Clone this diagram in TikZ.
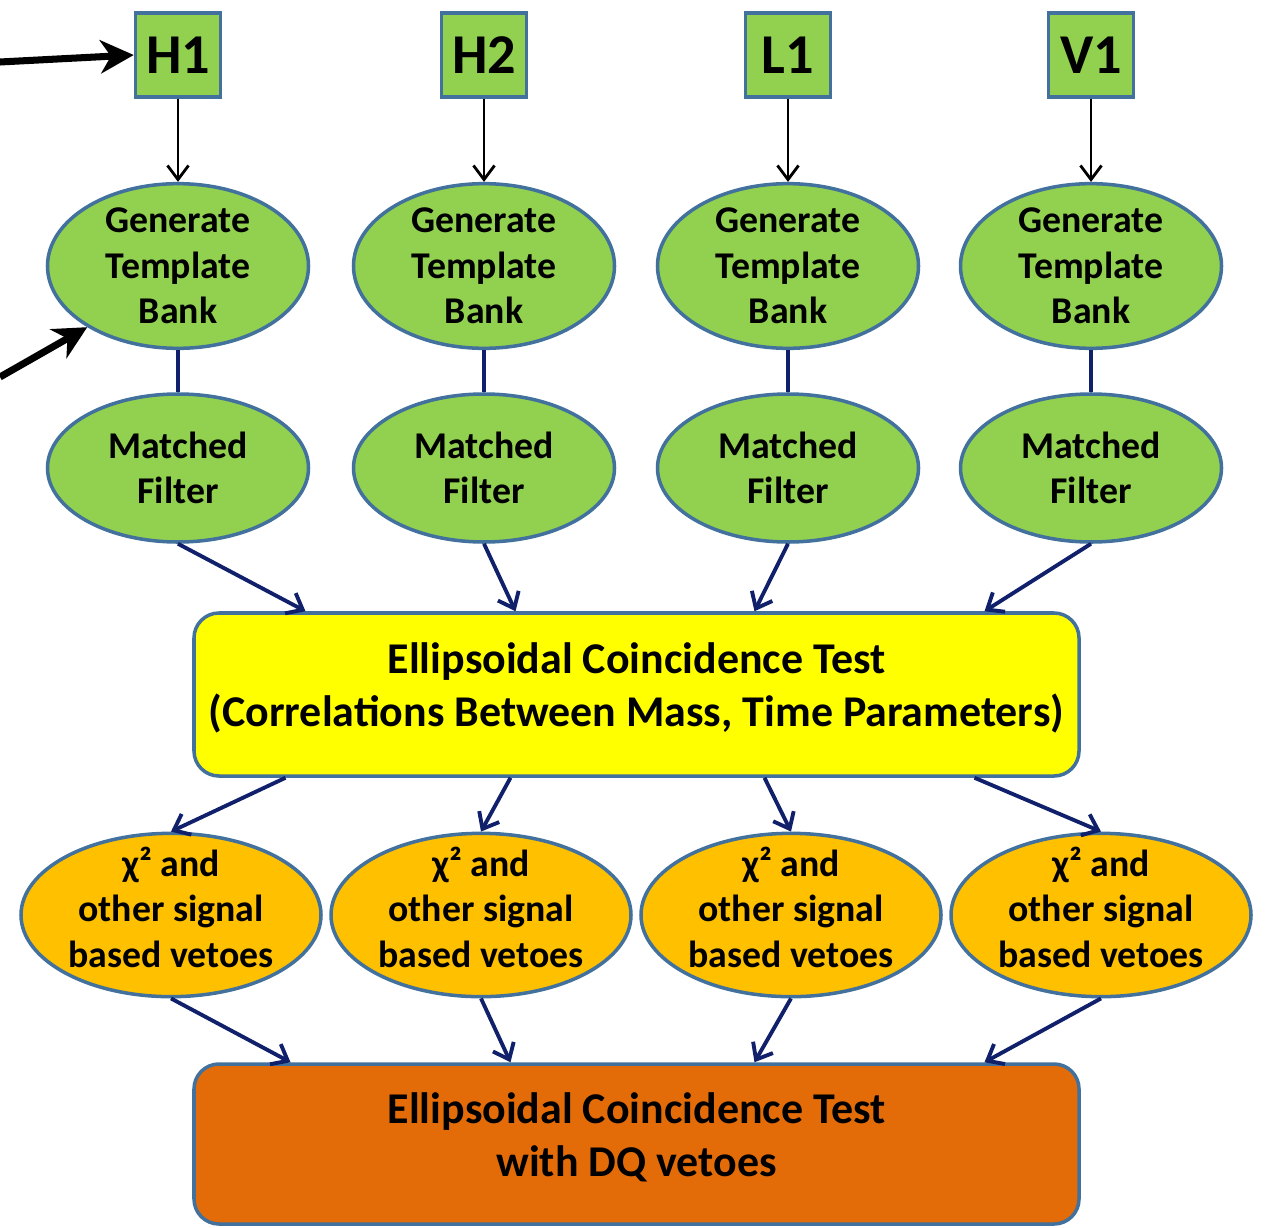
\documentclass[tikz,border=0pt]{standalone}
\usepackage{fontspec}
\setmainfont{Carlito}
\usetikzlibrary{arrows.meta,shapes.geometric,calc}
\definecolor{LeafGreen}{HTML}{92D050}
\definecolor{EdgeBlue}{HTML}{41719C}
\definecolor{Navy}{HTML}{10206B}
\definecolor{Lemon}{HTML}{FFFF00}
\definecolor{Amber}{HTML}{FFC000}
\definecolor{Rust}{HTML}{E36C09}

\begin{document}
\begin{tikzpicture}[x=0.2mm,y=-0.2mm,every node/.style={font=\bfseries,text=black,align=center},ifo/.style={draw=EdgeBlue,fill=LeafGreen,line width=2pt,minimum width=17mm,minimum height=16.8mm,inner sep=0pt,font=\bfseries\fontsize{32}{36}\selectfont},stage/.style={ellipse,draw=EdgeBlue,fill=LeafGreen,line width=2pt,inner sep=0pt,font=\bfseries\fontsize{21.5}{26}\selectfont},veto/.style={stage,fill=Amber,minimum width=60mm,minimum height=32.4mm,text depth=9pt,inner ysep=-6pt},testbox/.style={draw=EdgeBlue,line width=2pt,rounded corners=5mm,minimum width=177mm,minimum height=32.6mm,inner sep=0pt,text depth=11pt,font=\bfseries\fontsize{25}{30}\selectfont},flow/.style={-{Straight Barb[length=8pt,width=13pt]},line width=2.2pt,draw=Navy},feed/.style={-{Straight Barb[length=8pt,width=12pt]},line width=1.6pt,draw=black},pointer/.style={-{Stealth[length=19pt,width=19pt,inset=6pt]},line width=4pt,draw=black}]
\useasboundingbox (0,0) rectangle (1269,1227);
\newcommand{\detcol}[3]{\node[ifo](ifo#1) at (#3,55){#2};\node[stage,minimum width=52.2mm,minimum height=32.2mm](tmp#1) at (#3,266){Generate\\Template\\Bank};\node[stage,minimum width=52.2mm,minimum height=29.6mm](mf#1) at (#3,468){Matched\\Filter};\draw[feed](ifo#1)--(tmp#1);\draw[Navy,line width=2.2pt](tmp#1)--(mf#1);}
\detcol{1}{H1}{178}
\detcol{2}{H2}{484}
\detcol{3}{L1}{788}
\detcol{4}{V1}{1091}
\node[testbox,fill=Lemon](ect) at (636.5,694.5){Ellipsoidal Coincidence Test\\(Correlations Between Mass, Time Parameters)};
\node[veto](veto1) at (171,915){χ² and\\other signal\\based vetoes};
\node[veto](veto2) at (481,915){χ² and\\other signal\\based vetoes};
\node[veto](veto3) at (791,915){χ² and\\other signal\\based vetoes};
\node[veto](veto4) at (1101,915){χ² and\\other signal\\based vetoes};
\node[testbox,fill=Rust,minimum height=32mm](dq) at (636.5,1144){Ellipsoidal Coincidence Test\\with DQ vetoes};
\draw[flow](mf1.south)--($(ect.north)+(-331,0)$);
\draw[flow](mf2.south)--($(ect.north)+(-121,0)$);
\draw[flow](mf3.south)--($(ect.north)+(118,0)$);
\draw[flow](mf4.south)--($(ect.north)+(348,0)$);
\draw[flow]($(ect.south)+(-351,0)$)--(veto1.north);
\draw[flow]($(ect.south)+(-126,0)$)--(veto2.north);
\draw[flow]($(ect.south)+(128,0)$)--(veto3.north);
\draw[flow]($(ect.south)+(338,0)$)--(veto4.north);
\draw[flow](veto1.south)--($(dq.north)+(-346,0)$);
\draw[flow](veto2.south)--($(dq.north)+(-126,0)$);
\draw[flow](veto3.south)--($(dq.north)+(118,0)$);
\draw[flow](veto4.south)--($(dq.north)+(348,0)$);
\coordinate (feedA) at (0,62);
\coordinate (feedB) at (0,377);
\draw[pointer](feedA)--(ifo1.west);
\draw[pointer](feedB)--(tmp1.214);
\end{tikzpicture}
\end{document}
